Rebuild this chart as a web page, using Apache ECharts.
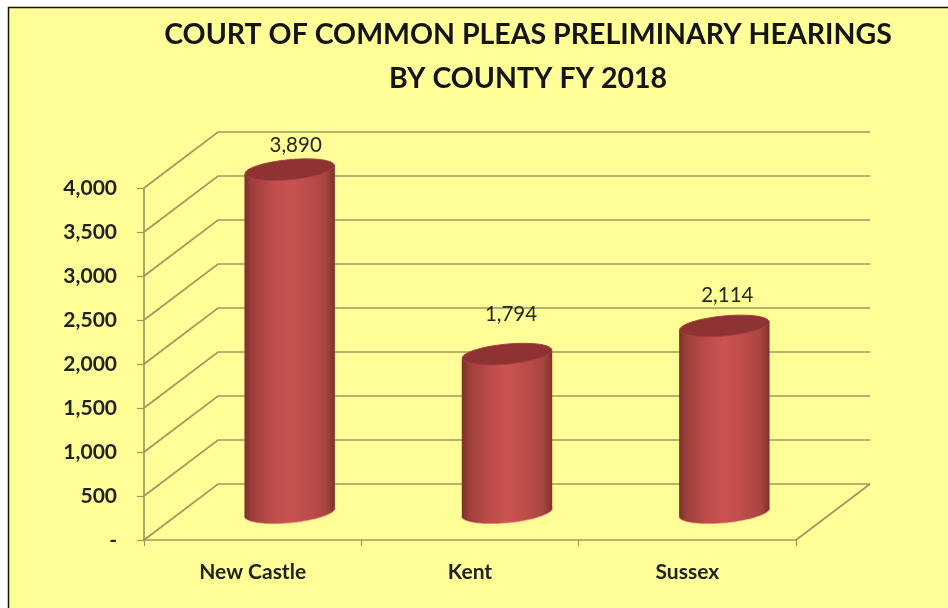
<!DOCTYPE html>
<html><head><meta charset="utf-8">
<style>html,body{margin:0;padding:0;background:#fff}#c{width:948px;height:608px}</style>
<script src="https://cdn.jsdelivr.net/npm/echarts@6/dist/echarts.min.js"></script>
</head><body><div id="c"></div>
<script>
const counties = ['New Castle', 'Kent', 'Sussex'];
const hearings = [3890, 1794, 2114];
const yTicks = [0, 500, 1000, 1500, 2000, 2500, 3000, 3500, 4000];
const titleText = 'COURT OF COMMON PLEAS PRELIMINARY HEARINGS\nBY COUNTY FY 2018';

const DEPTH_X = 74, DEPTH_Y = -56;
const LINE = '#9a9a60';
const FONT = 'Lato, "Open Sans", sans-serif';
const labelNudge = [[6, -24], [4, -40], [3, -31]];

const chart = echarts.init(document.getElementById('c'), null, {renderer: 'canvas'});

function wallItem(params, api) {
  const cs = params.coordSys;
  const v = api.value(0);
  const y = api.coord([0, v])[1];
  const x0 = cs.x, x1 = cs.x + cs.width;
  const style = {stroke: LINE, lineWidth: 1.7, fill: 'none'};
  const children = [{
    type: 'polyline',
    shape: {points: [[x0, y], [x0 + DEPTH_X, y + DEPTH_Y], [x1 + DEPTH_X, y + DEPTH_Y]]},
    style
  }];
  if (v === 0) {
    children.push({type: 'line', shape: {x1: x1, y1: y, x2: x1 + DEPTH_X, y2: y + DEPTH_Y}, style});
  }
  return {type: 'group', children};
}

function ellipsePoints(cx, cy, rx, ry, rot, from, to, n) {
  const pts = [];
  const c = Math.cos(rot), s = Math.sin(rot);
  for (let i = 0; i <= n; i++) {
    const t = from + (to - from) * i / n;
    const ex = rx * Math.cos(t), ey = ry * Math.sin(t);
    pts.push([cx + ex * c - ey * s, cy + ex * s + ey * c]);
  }
  return pts;
}

function cylinderItem(params, api) {
  const idx = api.value(0), val = api.value(1);
  const base = api.coord([idx, 0]);
  const top = api.coord([idx, val]);
  const band = api.size([1, 0])[0];
  const rx = band * 0.209, ry = 10.5, rot = -0.095;
  const cx = base[0] + DEPTH_X / 2;
  const by = base[1] + DEPTH_Y / 2;
  const ty = top[1] + DEPTH_Y / 2;
  const lower = ellipsePoints(cx, by, rx, ry, rot, 0, Math.PI, 40);
  const upper = ellipsePoints(cx, ty, rx, ry, rot, Math.PI, 0, 1);
  const body = lower.concat(upper);
  const grad = new echarts.graphic.LinearGradient(0, 0, 1, 0, [
    {offset: 0, color: '#7a302c'},
    {offset: 0.08, color: '#9e3e3b'},
    {offset: 0.3, color: '#bc4c4a'},
    {offset: 0.5, color: '#c95351'},
    {offset: 0.72, color: '#bd4c49'},
    {offset: 0.9, color: '#a8453f'},
    {offset: 1, color: '#7c3429'}
  ]);
  const nudge = labelNudge[idx];
  return {
    type: 'group',
    children: [
      {type: 'polyline', shape: {points: lower}, style: {stroke: '#ef9d78', lineWidth: 1.5, fill: 'none'}},
      {type: 'polygon', shape: {points: body}, style: {fill: grad}},
      {type: 'polygon', shape: {points: ellipsePoints(cx, ty, rx - 0.5, ry - 0.5, rot, 0, Math.PI * 2, 64)},
        style: {fill: '#8e3234', stroke: '#a8403e', lineWidth: 1}},
      {type: 'text', style: {
        text: echarts.format.addCommas(val), x: cx + nudge[0], y: ty + nudge[1],
        align: 'center', verticalAlign: 'middle',
        font: '20.5px ' + FONT, fill: '#262626'
      }}
    ]
  };
}

chart.setOption({
  animation: false,
  backgroundColor: '#ffffff',
  graphic: [
    {type: 'rect', z: -10, silent: true, shape: {x: 8, y: 7, width: 940, height: 601}, style: {fill: '#FFFE97'}},
    {type: 'polyline', z: -9, silent: true, shape: {points: [[8.5, 608], [8.5, 7.5], [948, 7.5]]},
      style: {stroke: '#111', lineWidth: 1.5, fill: 'none'}}
  ],
  title: {
    text: titleText, left: 523, top: 8, textAlign: 'center',
    textStyle: {fontFamily: FONT, fontWeight: 'bold', fontSize: 28.5, lineHeight: 44, color: '#141414'}
  },
  grid: {left: 144, right: 152, top: 188, bottom: 68, containLabel: false},
  xAxis: {
    type: 'category', data: counties,
    axisLine: {lineStyle: {color: LINE, width: 1.7}},
    axisTick: {show: true, length: 6, lineStyle: {color: LINE, width: 1.2}},
    axisLabel: {margin: 22, fontFamily: FONT, fontWeight: 'bold', fontSize: 21, color: '#222'},
    splitLine: {show: false}
  },
  yAxis: {
    type: 'value', min: 0, max: 4000, interval: 500,
    axisLine: {show: true, lineStyle: {color: LINE, width: 1.7}},
    axisTick: {show: true, length: 7, lineStyle: {color: LINE, width: 1.2}},
    axisLabel: {
      margin: 27, fontFamily: FONT, fontWeight: 'bold', fontSize: 21, color: '#222',
      padding: [6, 0, 0, 0],
      formatter: v => v === 0 ? '-' : echarts.format.addCommas(v)
    },
    splitLine: {show: false}
  },
  series: [
    {type: 'custom', name: 'walls', clip: false, z: 1, silent: true,
      renderItem: wallItem, encode: {y: 0}, data: yTicks.map(v => [v])},
    {type: 'custom', name: 'Preliminary hearings', clip: false, z: 3, silent: true,
      renderItem: cylinderItem, encode: {x: 0, y: 1},
      data: counties.map((c, i) => [i, hearings[i]])}
  ]
});
</script></body></html>
